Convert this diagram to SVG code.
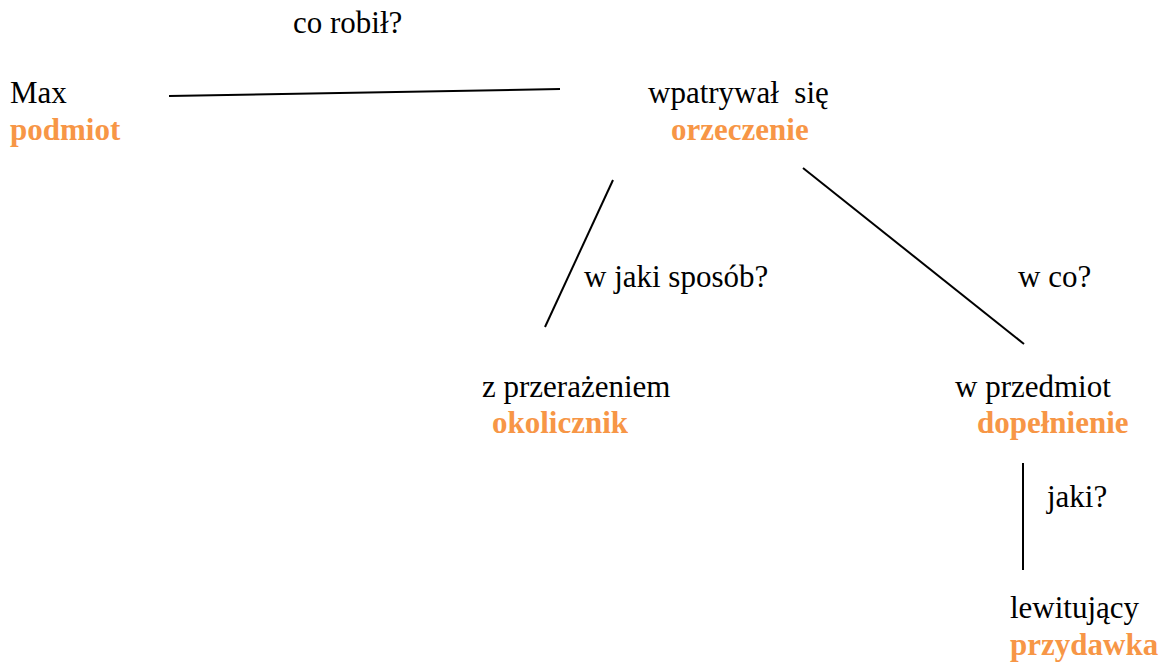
<svg xmlns="http://www.w3.org/2000/svg" width="1168" height="662" viewBox="0 0 1168 662">
<style>
text{font-size:31px;fill:#000}
.o{fill:#F79646;font-weight:bold}
.c line{stroke:#000;stroke-width:2}
</style>
<rect width="1168" height="662" fill="#fff"/>
<g class="c" id="connectors">
<line x1="169" y1="96" x2="560" y2="89"/>
<line x1="613" y1="180" x2="545" y2="327"/>
<line x1="803" y1="168" x2="1024" y2="344"/>
<line x1="1023" y1="463" x2="1023" y2="570"/>
</g>
<g font-family="'Liberation Serif', 'Times New Roman', 'DejaVu Serif', serif">
<g id="labels">
<text x="293" y="33">co robił?</text>
<text x="584" y="287">w jaki sposób?</text>
<text x="1018" y="287">w co?</text>
<text x="1047" y="507">jaki?</text>
</g>
<g id="n-podmiot"><text x="10" y="103">Max</text><text class="o" x="10" y="140">podmiot</text></g>
<g id="n-orzeczenie"><text x="648" y="103" xml:space="preserve">wpatrywał  się</text><text class="o" x="671" y="140">orzeczenie</text></g>
<g id="n-okolicznik"><text x="482" y="397">z przerażeniem</text><text class="o" x="492" y="433">okolicznik</text></g>
<g id="n-dopelnienie"><text x="955" y="397">w przedmiot</text><text class="o" x="977" y="433">dopełnienie</text></g>
<g id="n-przydawka"><text x="1010" y="618">lewitujący</text><text class="o" x="1010" y="655">przydawka</text></g>
</g>
</svg>
